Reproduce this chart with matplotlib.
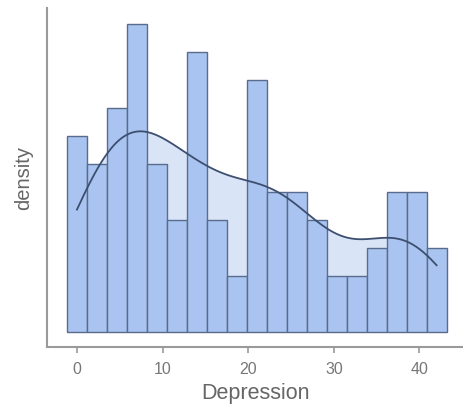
import numpy as np
import matplotlib
matplotlib.use('Agg')
import matplotlib.pyplot as plt

# Histogram of Depression scores (19 bins over 0..42)
bin_centers = np.arange(19) * 42 / 18
counts = [7, 6, 8, 11, 6, 4, 10, 4, 2, 9, 5, 5, 4, 2, 2, 3, 5, 5, 3]
xticks = [0, 10, 20, 30, 40]

width = 42 / 18
edges = np.append(bin_centers - width / 2, bin_centers[-1] + width / 2)

# density curve from the binned sample
sample = np.repeat(bin_centers, counts)
bw = 4.6
xs = np.linspace(sample.min(), sample.max(), 300)
kde = np.exp(-0.5 * ((xs[:, None] - sample[None, :]) / bw) ** 2).sum(axis=1)
kde = kde / (np.sqrt(2 * np.pi) * bw) * width  # scaled to counts

plt.rcParams['font.family'] = ['Liberation Sans', 'DejaVu Sans']

fig = plt.figure(figsize=(4.64, 4.12), dpi=100)
ax = fig.add_axes([47 / 464, 65 / 412, 417 / 464, 339 / 412])

ax.fill_between(xs, kde, color='#d9e5f7', zorder=1, lw=0)
ax.hist(sample, bins=edges, color='#a9c4f0', edgecolor='#5a6c8e',
        linewidth=1.0, zorder=2)
ax.plot(xs, kde, color='#3d4f70', lw=1.3, zorder=3)

ax.set_xlim(-3.5, 45.2)
ax.set_ylim(-0.55, 11.56)
ax.set_xticks(xticks)
ax.set_yticks([])
for s in ['top', 'right']:
    ax.spines[s].set_visible(False)
for s in ['left', 'bottom']:
    ax.spines[s].set_color('#9a9a9a')
    ax.spines[s].set_linewidth(1.5)
ax.tick_params(axis='x', length=4, width=1.2, color='#9a9a9a',
               labelsize=11.5, labelcolor='#777777', pad=7)
ax.set_xlabel('Depression', fontsize=15.5, color='#666666', labelpad=4)
ax.set_ylabel('density', fontsize=14.5, color='#666666', labelpad=10)

fig.savefig('out.png', dpi=100)
